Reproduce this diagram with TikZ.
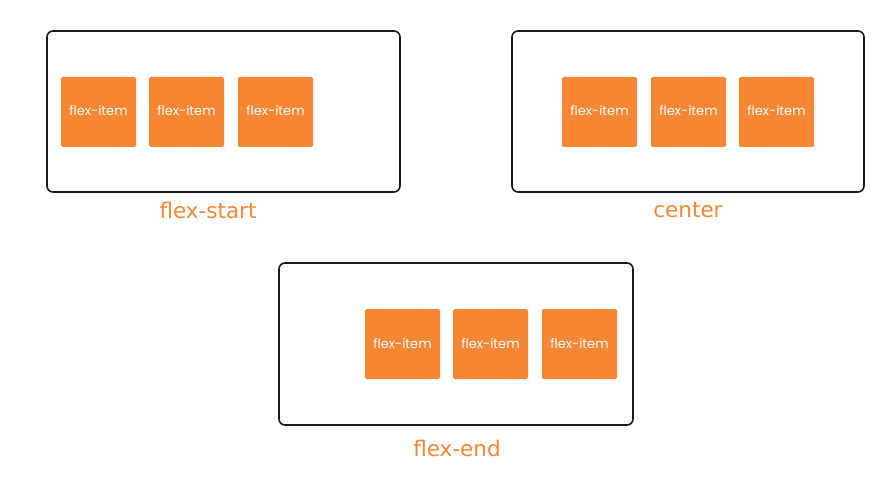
\documentclass[tikz,border=0pt]{standalone}
\usepackage{fontspec}
\setmainfont{Poppins}
\newfontfamily\labelfont{DejaVu Sans}
\definecolor{flexorange}{HTML}{F58634}
\begin{document}
\begin{tikzpicture}[x=1pt,y=-1pt,
  container/.style={draw=black!90,line width=1.6pt,rounded corners=6pt},
  itembox/.style={fill=flexorange,rounded corners=2pt,draw=none},
  itemtext/.style={text=white,font=\fontsize{13}{15}\selectfont},
  caption/.style={text=flexorange,font=\labelfont\fontsize{21.5}{24}\selectfont}]
\useasboundingbox (0,0) rectangle (892,481);
% containers
\draw[container] (47,31) rectangle (400,192);
\draw[container] (512,31) rectangle (864,192);
\draw[container] (279,263) rectangle (633,425);
% items: flex-start
\foreach \x [count=\i] in {61,149,238}{
  \fill[itembox] (\x,77) rectangle ++(75,70);
  \node[itemtext] (s\i) at (\x+37.5,111) {flex-item};
}
% items: center
\foreach \x [count=\i] in {562,651,739}{
  \fill[itembox] (\x,77) rectangle ++(75,70);
  \node[itemtext] (c\i) at (\x+37.5,111) {flex-item};
}
% items: flex-end
\foreach \x [count=\i] in {365,453,542}{
  \fill[itembox] (\x,309) rectangle ++(75,70);
  \node[itemtext] (e\i) at (\x+37.5,343.5) {flex-item};
}
\node[caption] (lstart) at (208,210) {flex-start};
\node[caption] (lcenter) at (688,210) {center};
\node[caption] (lend) at (457,448) {flex-end};
\end{tikzpicture}
\end{document}
